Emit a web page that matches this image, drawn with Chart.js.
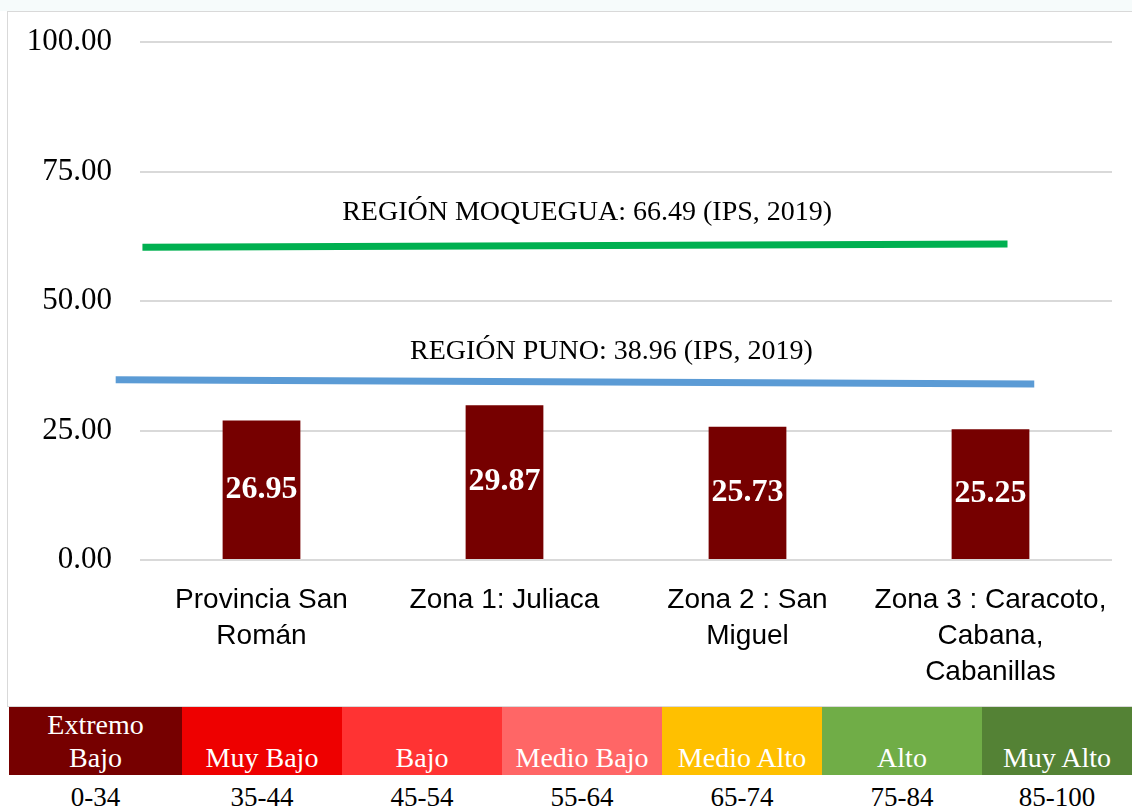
<!DOCTYPE html>
<html>
<head>
<meta charset="utf-8">
<script src="https://cdn.jsdelivr.net/npm/chart.js@4.4.1/dist/chart.umd.min.js"></script>
<style>
  body { margin: 0; background: #fff; width: 1132px; height: 812px; overflow: hidden; position: relative; }
  #topstrip { position: absolute; left: 0; top: 0; width: 1132px; height: 11px; background: #f6fbfb; }
  #frame { position: absolute; left: 7px; top: 11px; width: 1130px; height: 694px; border: 1px solid #d9d9d9; background: #fff; }
  #band { position: absolute; left: 9px; top: 707px; height: 68px; display: flex; }
  #band div { height: 68px; width: 160px; color: #fff; font: 28px "Liberation Serif", serif; text-align: center;
              display: flex; align-items: flex-end; justify-content: center; line-height: 33px; padding-bottom: 1px; box-sizing: border-box; }
  #band div:first-child { width: 173px; }
  #band div:last-child { width: 150px; }
  #ranges { position: absolute; left: 9px; top: 780px; display: flex; }
  #ranges div { width: 160px; text-align: center; font: 27px "Liberation Serif", serif; color: #000; line-height: 34px; }
  #ranges div:first-child { width: 173px; }
  #ranges div:last-child { width: 150px; }
</style>
</head>
<body>
<div id="topstrip"></div>
<div id="frame"><canvas id="ipsChart" width="1124" height="694"></canvas></div>
<div id="band"></div>
<div id="ranges"></div>
<script>
// Data
const zones = [['Provincia San', 'Román'], 'Zona 1: Juliaca', ['Zona 2 : San', 'Miguel'], ['Zona 3 : Caracoto,', 'Cabana,', 'Cabanillas']];
const ipsValues = [26.95, 29.87, 25.73, 25.25];
const yTicks = [0, 25, 50, 75, 100];

// reference lines (as drawn in the picture, slightly tilted)
const moqueguaLineX = [0.01, 3.57];
const moqueguaLineY = [60.4, 61.0];
const punoLineX = [-0.1, 3.68];
const punoLineY = [34.8, 34.0];
const moqueguaLabel = 'REGIÓN MOQUEGUA: 66.49 (IPS, 2019)';
const punoLabel = 'REGIÓN PUNO: 38.96 (IPS, 2019)';

// scale legend
const bandLabels = [['Extremo', 'Bajo'], 'Muy Bajo', 'Bajo', 'Medio Bajo', 'Medio Alto', 'Alto', 'Muy Alto'];
const bandRanges = ['0-34', '35-44', '45-54', '55-64', '65-74', '75-84', '85-100'];
const bandColors = ['#760000', '#ee0000', '#ff3333', '#ff6666', '#ffc000', '#70ad47', '#548235'];

// build the band below the chart
const band = document.getElementById('band');
const ranges = document.getElementById('ranges');
bandLabels.forEach((lbl, i) => {
    const cell = document.createElement('div');
    cell.style.background = bandColors[i];
    cell.innerHTML = Array.isArray(lbl) ? lbl.join('<br>') : lbl;
    band.appendChild(cell);
    const r = document.createElement('div');
    r.textContent = bandRanges[i];
    ranges.appendChild(r);
});

const toPoints = (xs, ys) => xs.map((x, i) => ({ x: x, y: ys[i] }));

// labels inside bars + text above the reference lines
const textPlugin = {
    id: 'textPlugin',
    afterDatasetsDraw(chart) {
        const ctx = chart.ctx;
        const meta = chart.getDatasetMeta(0);
        ctx.save();
        ctx.fillStyle = '#fff';
        ctx.font = 'bold 32px "Liberation Serif", serif';
        ctx.textAlign = 'center';
        ctx.textBaseline = 'middle';
        meta.data.forEach((bar, i) => {
            ctx.fillText(ipsValues[i].toFixed(2), bar.x, (bar.y + bar.base) / 2);
        });
        const xs = chart.scales.x2, ys = chart.scales.y;
        ctx.fillStyle = '#000';
        ctx.font = '28px "Liberation Serif", serif';
        ctx.fillText(moqueguaLabel, xs.getPixelForValue(1.84), ys.getPixelForValue(67.0));
        ctx.fillText(punoLabel, xs.getPixelForValue(1.94), ys.getPixelForValue(40.2));
        ctx.restore();
    }
};

new Chart(document.getElementById('ipsChart'), {
    type: 'bar',
    data: {
        labels: zones,
        datasets: [{
            data: ipsValues,
            backgroundColor: '#760000',
            grouped: false,
            categoryPercentage: 1,
            barPercentage: 0.32
        }, {
            type: 'line',
            xAxisID: 'x2',
            data: toPoints(moqueguaLineX, moqueguaLineY),
            borderColor: '#00b050',
            borderWidth: 7,
            pointRadius: 0,
            clip: false
        }, {
            type: 'line',
            xAxisID: 'x2',
            data: toPoints(punoLineX, punoLineY),
            borderColor: '#5b9bd5',
            borderWidth: 7,
            pointRadius: 0,
            clip: false
        }]
    },
    options: {
        responsive: false,
        animation: false,
        layout: { padding: { left: 0, right: 20, top: 30, bottom: 0 } },
        plugins: { legend: { display: false }, tooltip: { enabled: false } },
        scales: {
            x: {
                grid: { display: false },
                border: { display: false },
                ticks: {
                    color: '#000',
                    padding: 14,
                    maxRotation: 0,
                    font: { family: '"Liberation Sans", Arial, sans-serif', size: 28, lineHeight: 1.29 }
                },
                afterFit(scale) { scale.height = 146; }
            },
            x2: { type: 'linear', display: false, offset: false, min: 0, max: 4 },
            y: {
                min: 0,
                max: 100,
                afterBuildTicks(scale) { scale.ticks = yTicks.map(v => ({ value: v })); },
                grid: { color: '#d9d9d9', lineWidth: 2, drawTicks: false },
                border: { display: false },
                ticks: {
                    color: '#000',
                    padding: 28,
                    font: { family: '"Liberation Serif", serif', size: 31 },
                    callback: v => v.toFixed(2)
                },
                afterFit(scale) {
                    scale.width = 132;
                    scale.paddingTop = 0;
                    scale.paddingBottom = 0;
                }
            }
        }
    },
    plugins: [textPlugin]
});
</script>
</body>
</html>
